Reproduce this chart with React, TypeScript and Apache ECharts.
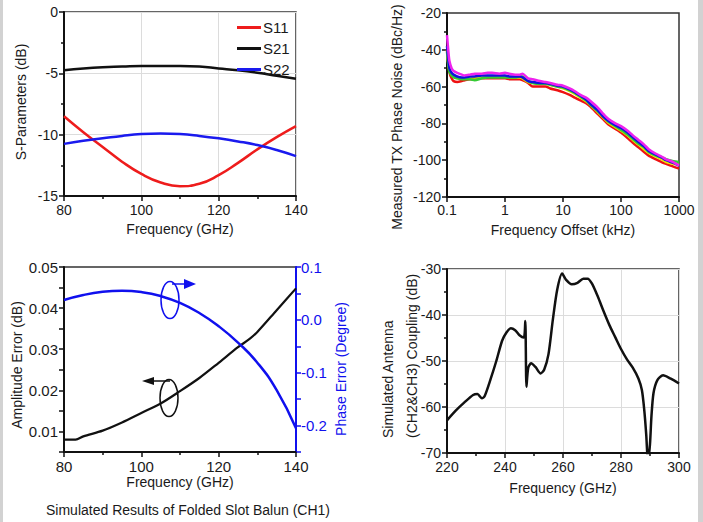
import React, { useEffect, useRef } from "react";
import * as echarts from "echarts";

// ---- Plot 1: S-parameters ----
const sFreq = [80, 85, 90, 95, 100, 105, 110, 115, 120, 125, 130, 135, 140];
const s11 = [-8.5, -9.8, -11.0, -12.2, -13.2, -13.9, -14.2, -14.0, -13.3, -12.3, -11.2, -10.2, -9.3];
const s21 = [-4.75, -4.6, -4.5, -4.45, -4.4, -4.4, -4.4, -4.45, -4.6, -4.75, -4.95, -5.2, -5.45];
const s22 = [-10.75, -10.5, -10.3, -10.1, -9.95, -9.9, -9.95, -10.1, -10.3, -10.55, -10.85, -11.25, -11.75];

// ---- Plot 2: phase noise ----
const pnOffset = [0.1, 0.105, 0.11, 0.12, 0.13, 0.15, 0.18, 0.2, 0.25, 0.3, 0.4, 0.5, 0.6, 0.8, 1, 1.2, 1.5, 1.8, 2, 2.5, 3, 4, 5, 6, 8, 10, 13, 16, 20, 25, 30, 40, 50, 60, 80, 100, 130, 160, 200, 250, 300, 400, 500, 600, 800, 1000];
const pnMagenta = [-32, -40, -46, -50, -51.5, -52.5, -53.5, -54, -53.5, -53, -53, -52.5, -52.5, -53, -52.5, -53, -53.5, -53.5, -53, -55.5, -56, -57, -57.5, -58, -59, -59.5, -61, -62.5, -64.5, -66, -68, -71.5, -75, -77.5, -80, -81.5, -84, -86.5, -89, -91.5, -94, -96.5, -98, -99.5, -101, -103];
const pnRed = [-40, -47, -52, -55.5, -57, -57.5, -57, -56.5, -56, -56, -55.5, -55.5, -55.5, -55.5, -55.5, -56, -56, -56, -56.5, -58, -60, -60, -60, -61, -62, -63, -64.5, -66, -67.5, -69, -71, -75, -78, -80.5, -83, -85, -88, -90.5, -93, -95.5, -97.5, -99.5, -101, -102, -103.5, -104.5];
const pnBlue = [-38, -45, -50, -52.5, -53.5, -54.5, -55, -55, -54.5, -54.5, -54, -54, -54, -54, -54, -54.5, -54.5, -54.5, -55, -57, -57.5, -58, -58, -58.5, -59.5, -60, -61.5, -63, -65, -67, -69.5, -73, -76.5, -78.5, -81, -82.5, -85, -87.5, -90, -92.5, -95, -97, -98.5, -100, -101.5, -103];
const pnGreen = [-41, -48, -52, -54, -55, -55.5, -56, -56, -56, -56.5, -55.5, -55, -55, -55, -55, -55, -55, -54.5, -54.5, -57, -58, -58.5, -58.5, -59, -60, -60.5, -62, -63.5, -65.5, -67.5, -70, -73.5, -76.5, -79, -81.5, -83.5, -86, -88.5, -91, -93, -95.5, -97.5, -98.5, -99.5, -100.5, -101];
const pnYellow = [-40, -47, -51, -53.5, -54.5, -55.5, -55.5, -55.5, -55, -55, -55, -54.5, -54.5, -54.5, -54.5, -55, -55, -55, -55.5, -57.5, -58, -58.5, -58.5, -59, -60, -61, -62.5, -64, -66, -68, -70, -74, -77, -79.5, -82, -84, -86.5, -89, -91.5, -94, -96, -98, -99.5, -101, -102, -102.5];

// ---- Plot 3: balun amplitude / phase error ----
const balFreq = [80, 83, 85, 90, 95, 100, 105, 110, 115, 120, 125, 128, 130, 135, 140];
const ampErr = [0.008, 0.008, 0.0088, 0.0102, 0.0122, 0.0145, 0.0168, 0.0198, 0.023, 0.0267, 0.0305, 0.0325, 0.0342, 0.0395, 0.0448];
const phFreq = [80, 85, 90, 95, 100, 105, 110, 115, 120, 125, 130, 135, 140];
const phErr = [0.0375, 0.047, 0.053, 0.055, 0.0525, 0.045, 0.032, 0.013, -0.012, -0.043, -0.081, -0.133, -0.205];

// ---- Plot 4: antenna coupling ----
const cplFreq = [220, 223, 226, 229, 230.5, 232, 233, 235, 237, 239, 240.5, 242, 243.5, 245, 246.5, 247, 247.4, 248, 249, 250.5, 252.3, 253.5, 255, 256.5, 258, 259.7, 261, 263, 265, 267, 268.5, 270, 272, 274, 276, 278, 280, 282, 284, 286, 287.2, 288, 288.7, 289.3, 290, 290.5, 291.2, 292.5, 294.5, 297, 300];
const cplVal = [-62.9, -60.8, -59, -57.4, -57.2, -58.1, -57.6, -54, -50, -45.6, -43.8, -42.9, -43.3, -44.4, -44.9, -41.3, -55.6, -51.5, -50.5, -51.3, -52.7, -51.9, -48.5, -41, -34.5, -31, -32.3, -33.3, -33, -32.1, -32.1, -33.2, -36, -39.2, -42.2, -44.8, -47.4, -49.6, -51.4, -53.8, -56.3, -60.5, -66, -72, -68, -62, -57, -54.2, -53.1, -53.8, -54.9];

const FONT = "Liberation Sans, Arial, sans-serif";
const TXT = "#1a1a1a";
const TICK = 14;
const TITLE = 14;

function zip(xs: number[], ys: number[]) {
  return xs.map((x, i) => [x, ys[i]]);
}

function baseX(gridIndex: number, min: number, max: number, interval: number, name: string, nameGap: number, split: boolean, fs = TICK) {
  return {
    type: "value",
    gridIndex,
    min,
    max,
    interval,
    name,
    nameLocation: "middle",
    nameGap,
    nameTextStyle: { fontFamily: FONT, fontSize: TITLE, color: TXT },
    axisLine: { show: true, onZero: false, lineStyle: { color: "#111", width: 2 } },
    axisTick: { show: true, length: 5, lineStyle: { color: "#111", width: 1.5 } },
    minorTick: { show: true, splitNumber: 2, length: 3, lineStyle: { color: "#111", width: 1.5 } },
    axisLabel: { fontFamily: FONT, fontSize: fs, color: TXT, margin: 7 },
    splitLine: { show: split, lineStyle: { color: "#dcdcdc", width: 1 } },
  };
}

function baseY(gridIndex: number, min: number, max: number, interval: number, split: boolean) {
  return {
    type: "value",
    gridIndex,
    min,
    max,
    interval,
    axisLine: { show: true, onZero: false, lineStyle: { color: "#111", width: 2 } },
    axisTick: { show: true, length: 5, lineStyle: { color: "#111", width: 1.5 } },
    minorTick: { show: true, splitNumber: 2, length: 3, lineStyle: { color: "#111", width: 1.5 } },
    axisLabel: { fontFamily: FONT, fontSize: TICK, color: TXT, margin: 6 },
    splitLine: { show: split, lineStyle: { color: "#dcdcdc", width: 1 } },
  };
}

function lineSeries(name: string, data: number[][], color: string, xi: number, yi: number, width = 2.5, smooth: any = true) {
  return {
    type: "line",
    name,
    data,
    xAxisIndex: xi,
    yAxisIndex: yi,
    showSymbol: false,
    symbol: "none",
    smooth,
    clip: true,
    lineStyle: { color, width },
    itemStyle: { color },
  };
}

export default function App() {
  const ref = useRef<HTMLDivElement>(null);
  useEffect(() => {
    if (!ref.current) return;
    const chart = echarts.init(ref.current, undefined, { renderer: "svg" });
    const gridCommon = { show: true, borderColor: "#333", borderWidth: 1.5, backgroundColor: "transparent", containLabel: false };
    const titleStyle = { fontFamily: FONT, fontSize: TITLE, fill: TXT, textVerticalAlign: "middle" };
    const option: any = {
      animation: false,
      backgroundColor: "#ffffff",
      textStyle: { fontFamily: FONT },
      grid: [
        { ...gridCommon, left: 64, top: 12, width: 232, height: 184 },
        { ...gridCommon, left: 447, top: 13, width: 232, height: 184 },
        { ...gridCommon, left: 64, top: 267, width: 232, height: 185 },
        { ...gridCommon, left: 447, top: 269, width: 232, height: 184 },
      ],
      legend: {
        data: ["S11", "S21", "S22"],
        left: 232,
        top: 15,
        orient: "vertical",
        icon: "rect",
        itemWidth: 24,
        itemHeight: 3,
        itemGap: 6,
        textStyle: { fontFamily: FONT, fontSize: 15, color: TXT, padding: [0, 0, 0, -3] },
      },
      xAxis: [
        baseX(0, 80, 140, 20, "Frequency (GHz)", 26, true),
        {
          type: "log",
          gridIndex: 1,
          min: 0.1,
          max: 1000,
          logBase: 10,
          name: "Frequency Offset (kHz)",
          nameLocation: "middle",
          nameGap: 26,
          nameTextStyle: { fontFamily: FONT, fontSize: TITLE, color: TXT },
          axisLine: { show: true, onZero: false, lineStyle: { color: "#111", width: 2 } },
          axisTick: { show: true, length: 5, lineStyle: { color: "#111", width: 1.5 } },
          axisLabel: {
            fontFamily: FONT, fontSize: TICK, color: TXT, margin: 6,
            formatter: (v: number) => (v < 1 ? v.toFixed(1) : String(Math.round(v))),
          },
          splitLine: { show: false },
        },
        baseX(2, 80, 140, 20, "Frequency (GHz)", 21, false, 15),
        baseX(3, 220, 300, 20, "Frequency (GHz)", 28, true),
      ],
      yAxis: [
        baseY(0, -15, 0, 5, true),
        baseY(1, -120, -20, 20, false),
        {
          ...baseY(2, 0.005, 0.05, 0.005, false),
          minorTick: { show: false },
          axisLabel: {
            fontFamily: FONT, fontSize: 15, color: TXT, margin: 6,
            formatter: (v: number) => (Math.abs(v * 100 - Math.round(v * 100)) < 1e-6 ? v.toFixed(2) : ""),
          },
        },
        {
          type: "value",
          gridIndex: 2,
          position: "right",
          min: -0.25,
          max: 0.1,
          interval: 0.05,
          alignTicks: false,
          axisLine: { show: true, onZero: false, lineStyle: { color: "#1010ee", width: 2 } },
          axisTick: { show: true, length: 5, lineStyle: { color: "#1010ee", width: 1.5 } },
          axisLabel: {
            fontFamily: FONT, fontSize: 15, color: "#1010ee", margin: 5,
            formatter: (v: number) => {
              const k = v * 10;
              if (Math.abs(k - Math.round(k)) > 1e-6) return "";
              const r = Math.round(k) / 10;
              return Math.abs(r) < 1e-9 ? "0.0" : r.toFixed(1);
            },
          },
          splitLine: { show: false },
        },
        baseY(3, -70, -30, 10, true),
      ],
      series: [
        lineSeries("S11", zip(sFreq, s11), "#ee1c1c", 0, 0),
        lineSeries("S21", zip(sFreq, s21), "#111111", 0, 0),
        lineSeries("S22", zip(sFreq, s22), "#1a1aee", 0, 0),
        lineSeries("red", zip(pnOffset, pnRed), "#ee1111", 1, 1, 2.5, 0.2),
        lineSeries("yellow", zip(pnOffset, pnYellow), "#e6e600", 1, 1, 2.5, 0.2),
        lineSeries("green", zip(pnOffset, pnGreen), "#33cc33", 1, 1, 2.5, 0.2),
        lineSeries("blue", zip(pnOffset, pnBlue), "#1111dd", 1, 1, 2.5, 0.2),
        lineSeries("magenta", zip(pnOffset, pnMagenta), "#ee22ee", 1, 1, 2.5, 0.2),
        lineSeries("Amplitude Error", zip(balFreq, ampErr), "#111111", 2, 2, 2.2, 0.3),
        lineSeries("Phase Error", zip(phFreq, phErr), "#1010ee", 2, 3, 2.5, true),
        lineSeries("Coupling", zip(cplFreq, cplVal), "#111111", 3, 4, 2.5, 0.25),
      ],
      graphic: [
        { type: "rect", shape: { x: 0, y: 0, width: 3, height: 522 }, style: { fill: "#d2d2d2" } },
        { type: "rect", shape: { x: 698, y: 0, width: 5, height: 522 }, style: { fill: "#d2d2d2" } },
        { type: "text", x: 21, y: 102, rotation: Math.PI / 2, style: { ...titleStyle, text: "S-Parameters (dB)", textAlign: "center" } },
        { type: "text", x: 397, y: 117, rotation: Math.PI / 2, style: { ...titleStyle, text: "Measured TX Phase Noise (dBc/Hz)", textAlign: "center" } },
        { type: "text", x: 17, y: 365, rotation: Math.PI / 2, style: { ...titleStyle, text: "Amplitude Error (dB)", textAlign: "center" } },
        { type: "text", x: 341, y: 369, rotation: Math.PI / 2, style: { ...titleStyle, fill: "#1010ee", text: "Phase Error (Degree)", textAlign: "center" } },
        { type: "text", x: 388, y: 438, rotation: Math.PI / 2, style: { ...titleStyle, text: "Simulated Antenna", textAlign: "left" } },
        { type: "text", x: 412, y: 438, rotation: Math.PI / 2, style: { ...titleStyle, text: "(CH2&CH3) Coupling (dB)", textAlign: "left" } },
        { type: "text", x: 188, y: 510, style: { ...titleStyle, text: "Simulated Results of Folded Slot Balun (CH1)", textAlign: "center" } },
        // annotation: phase (blue) ellipse and arrow pointing right
        { type: "ellipse", shape: { cx: 170, cy: 300, rx: 9, ry: 18.5 }, style: { fill: "none", stroke: "#1010ee", lineWidth: 1.5 }, z: 10 },
        { type: "polyline", shape: { points: [[172, 284], [185, 284]] }, style: { stroke: "#1010ee", lineWidth: 1.5, fill: "none" }, z: 10 },
        { type: "polygon", shape: { points: [[184, 279], [196, 284], [184, 289]] }, style: { fill: "#1010ee" }, z: 10 },
        // annotation: amplitude (black) ellipse and arrow pointing left
        { type: "ellipse", shape: { cx: 169, cy: 398, rx: 9, ry: 18.5 }, style: { fill: "none", stroke: "#111", lineWidth: 1.5 }, z: 10 },
        { type: "polyline", shape: { points: [[152, 381], [170, 381]] }, style: { stroke: "#111", lineWidth: 1.5, fill: "none" }, z: 10 },
        { type: "polygon", shape: { points: [[154, 377], [142, 381], [154, 385]] }, style: { fill: "#111" }, z: 10 },
      ],
    };
    chart.setOption(option);
    return () => chart.dispose();
  }, []);
  return <div ref={ref} style={{ position: "fixed", left: 0, top: 0, width: 703, height: 522 }} />;
}
